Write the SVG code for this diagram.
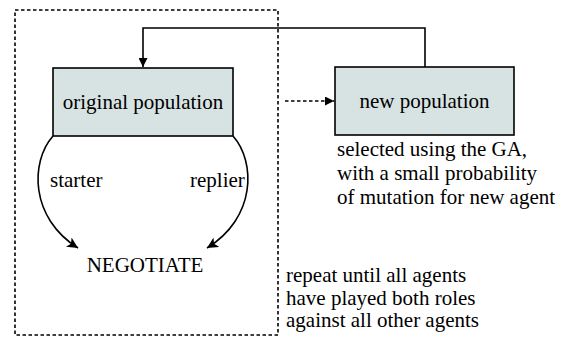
<svg xmlns="http://www.w3.org/2000/svg" width="566" height="341" viewBox="0 0 566 341">
<defs>
<style>
text{font-family:"Liberation Serif","Times New Roman",serif;fill:#000}
.box{fill:#d7e3e3;stroke:#000;stroke-width:1.6}
.lbl{font-size:21px;text-anchor:middle}
.note{font-size:21px}
.line{fill:none;stroke:#000;stroke-width:1.6}
.dash{fill:none;stroke:#000;stroke-width:1.6;stroke-dasharray:3.5 2.5}
</style>
<marker id="ah" viewBox="0 0 10 10" refX="10" refY="5" markerWidth="11" markerHeight="11" markerUnits="userSpaceOnUse" orient="auto">
<path d="M0,0 L10,5 L0,10 L2.5,5 Z" fill="#000"/>
</marker>
<marker id="ah2" viewBox="0 0 10 10" refX="10" refY="5" markerWidth="9" markerHeight="9" markerUnits="userSpaceOnUse" orient="auto">
<path d="M0,0 L10,5 L0,10 Z" fill="#000"/>
</marker>
</defs>
<g id="loop-frame">
<rect class="dash" x="15" y="10" width="263" height="325"/>
</g>
<g id="connectors">
<path class="line" d="M425,67 V28 H143 V67" marker-end="url(#ah2)"/>
<path class="dash" d="M285,101 H334" marker-end="url(#ah2)"/>
<path class="line" d="M53,136 C30,162 30,218 78,248" marker-end="url(#ah)"/>
<path class="line" d="M233,136 C256,162 256,218 207,248" marker-end="url(#ah)"/>
</g>
<g id="original-population">
<rect class="box" x="53" y="68" width="180" height="68"/>
<text class="lbl" x="143" y="109">original population</text>
</g>
<g id="new-population">
<rect class="box" x="335" y="67" width="179" height="68"/>
<text class="lbl" x="424.5" y="108">new population</text>
</g>
<g id="negotiate">
<text class="lbl" x="145" y="272">NEGOTIATE</text>
</g>
<g id="labels">
<text class="note" x="50" y="187">starter</text>
<text class="note" x="190" y="187">replier</text>
<text class="note" x="337" y="156">selected using the GA,</text>
<text class="note" x="337" y="180">with a small probability</text>
<text class="note" x="337" y="204">of mutation for new agent</text>
<text class="note" x="286" y="282">repeat until all agents</text>
<text class="note" x="286" y="304.5">have played both roles</text>
<text class="note" x="286" y="327">against all other agents</text>
</g>
</svg>
